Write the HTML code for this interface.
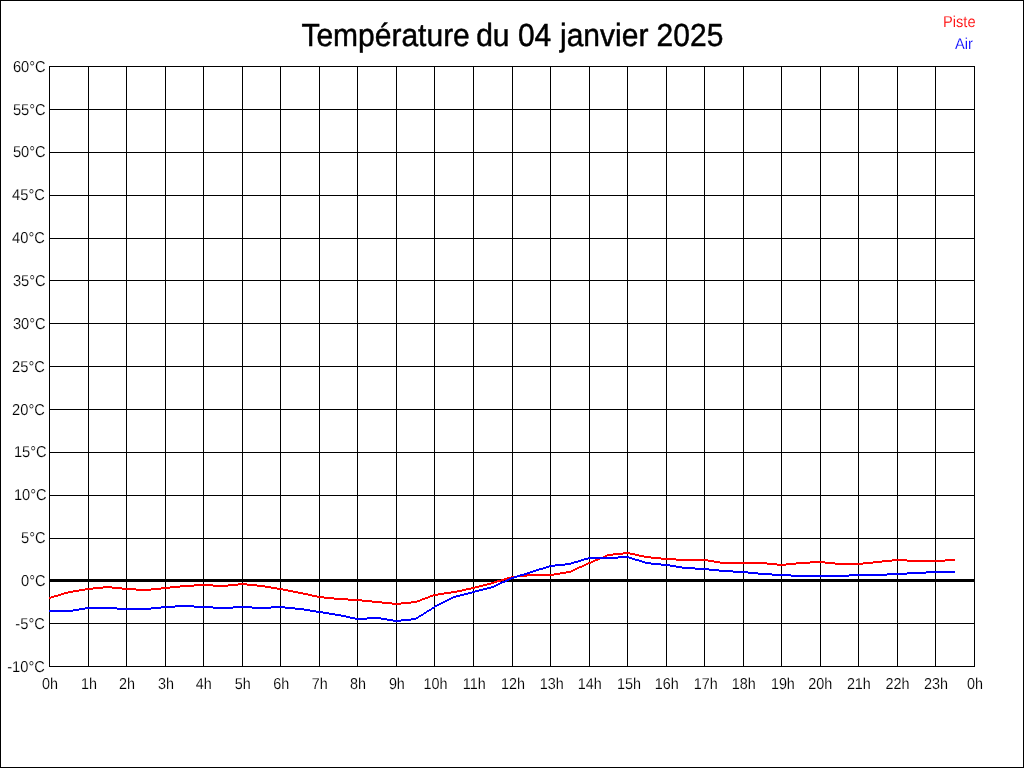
<!DOCTYPE html>
<html lang="fr">
<head>
<meta charset="utf-8">
<title>Température du 04 janvier 2025</title>
<style>
html,body{margin:0;padding:0;background:#fff;}
body{width:1024px;height:768px;overflow:hidden;position:relative;font-family:"Liberation Sans",sans-serif;}
svg{position:absolute;left:0;top:0;display:block;}
text{font-family:"Liberation Sans",sans-serif;text-rendering:geometricPrecision;}
.t{font-size:30px;fill:#000;text-anchor:start;}
.yl{font-size:14.67px;fill:#000;text-anchor:end;stroke:#fff;stroke-width:0.12px;}
.xl{font-size:14.67px;fill:#000;text-anchor:start;stroke:#fff;stroke-width:0.12px;}
.lg{font-size:14.67px;text-anchor:end;stroke:#fff;stroke-width:0.12px;}
</style>
</head>
<body>
<svg width="1024" height="768" viewBox="0 0 1024 768">
<rect x="0" y="0" width="1024" height="768" fill="#fff"/>
<g shape-rendering="crispEdges">
<rect x="0.5" y="0.5" width="1023" height="767" fill="none" stroke="#000" stroke-width="1"/>
<g stroke="#000" stroke-width="1" fill="none">
<line x1="49.5" y1="66" x2="49.5" y2="667"/>
<line x1="88.5" y1="66" x2="88.5" y2="667"/>
<line x1="126.5" y1="66" x2="126.5" y2="667"/>
<line x1="165.5" y1="66" x2="165.5" y2="667"/>
<line x1="203.5" y1="66" x2="203.5" y2="667"/>
<line x1="242.5" y1="66" x2="242.5" y2="667"/>
<line x1="280.5" y1="66" x2="280.5" y2="667"/>
<line x1="319.5" y1="66" x2="319.5" y2="667"/>
<line x1="357.5" y1="66" x2="357.5" y2="667"/>
<line x1="396.5" y1="66" x2="396.5" y2="667"/>
<line x1="434.5" y1="66" x2="434.5" y2="667"/>
<line x1="473.5" y1="66" x2="473.5" y2="667"/>
<line x1="512.5" y1="66" x2="512.5" y2="667"/>
<line x1="550.5" y1="66" x2="550.5" y2="667"/>
<line x1="589.5" y1="66" x2="589.5" y2="667"/>
<line x1="627.5" y1="66" x2="627.5" y2="667"/>
<line x1="666.5" y1="66" x2="666.5" y2="667"/>
<line x1="704.5" y1="66" x2="704.5" y2="667"/>
<line x1="743.5" y1="66" x2="743.5" y2="667"/>
<line x1="781.5" y1="66" x2="781.5" y2="667"/>
<line x1="820.5" y1="66" x2="820.5" y2="667"/>
<line x1="858.5" y1="66" x2="858.5" y2="667"/>
<line x1="897.5" y1="66" x2="897.5" y2="667"/>
<line x1="935.5" y1="66" x2="935.5" y2="667"/>
<line x1="974.5" y1="66" x2="974.5" y2="667"/>
<line x1="49" y1="66.5" x2="975" y2="66.5"/>
<line x1="49" y1="109.5" x2="975" y2="109.5"/>
<line x1="49" y1="152.5" x2="975" y2="152.5"/>
<line x1="49" y1="195.5" x2="975" y2="195.5"/>
<line x1="49" y1="238.5" x2="975" y2="238.5"/>
<line x1="49" y1="280.5" x2="975" y2="280.5"/>
<line x1="49" y1="323.5" x2="975" y2="323.5"/>
<line x1="49" y1="366.5" x2="975" y2="366.5"/>
<line x1="49" y1="409.5" x2="975" y2="409.5"/>
<line x1="49" y1="452.5" x2="975" y2="452.5"/>
<line x1="49" y1="495.5" x2="975" y2="495.5"/>
<line x1="49" y1="538.5" x2="975" y2="538.5"/>
<line x1="49" y1="580.5" x2="975" y2="580.5"/>
<line x1="49" y1="623.5" x2="975" y2="623.5"/>
<line x1="49" y1="666.5" x2="975" y2="666.5"/>
</g>
<rect x="49" y="579" width="926" height="3" fill="#000"/>
<path d="M623 552h7v1h-7zM613 553h22v1h-22zM607 554h16v1h-16zM630 554h9v1h-9zM605 555h8v1h-8zM635 555h9v1h-9zM603 556h4v1h-4zM639 556h12v1h-12zM600 557h5v1h-5zM644 557h17v1h-17zM598 558h5v1h-5zM651 558h25v1h-25zM595 559h5v1h-5zM661 559h47v1h-47zM892 559h15v1h-15zM945 559h10v1h-10zM593 560h5v1h-5zM676 560h38v1h-38zM882 560h73v1h-73zM591 561h4v1h-4zM708 561h12v1h-12zM810 561h15v1h-15zM873 561h19v1h-19zM907 561h38v1h-38zM588 562h5v1h-5zM714 562h53v1h-53zM796 562h39v1h-39zM863 562h19v1h-19zM586 563h5v1h-5zM720 563h57v1h-57zM786 563h24v1h-24zM825 563h48v1h-48zM584 564h4v1h-4zM767 564h29v1h-29zM835 564h28v1h-28zM582 565h4v1h-4zM777 565h9v1h-9zM579 566h5v1h-5zM577 567h5v1h-5zM575 568h4v1h-4zM573 569h4v1h-4zM571 570h4v1h-4zM566 571h7v1h-7zM560 572h11v1h-11zM554 573h12v1h-12zM527 574h33v1h-33zM517 575h37v1h-37zM511 576h16v1h-16zM507 577h10v1h-10zM504 578h7v1h-7zM501 579h6v1h-6zM497 580h7v1h-7zM494 581h7v1h-7zM491 582h6v1h-6zM238 583h9v1h-9zM487 583h7v1h-7zM194 584h19v1h-19zM228 584h29v1h-29zM483 584h8v1h-8zM180 585h58v1h-58zM247 585h18v1h-18zM479 585h8v1h-8zM103 586h9v1h-9zM170 586h24v1h-24zM213 586h15v1h-15zM257 586h14v1h-14zM475 586h8v1h-8zM93 587h29v1h-29zM161 587h19v1h-19zM265 587h12v1h-12zM471 587h8v1h-8zM85 588h18v1h-18zM112 588h24v1h-24zM151 588h19v1h-19zM271 588h12v1h-12zM466 588h9v1h-9zM79 589h14v1h-14zM122 589h39v1h-39zM277 589h11v1h-11zM462 589h9v1h-9zM73 590h12v1h-12zM136 590h15v1h-15zM283 590h10v1h-10zM457 590h9v1h-9zM68 591h11v1h-11zM288 591h10v1h-10zM451 591h11v1h-11zM64 592h9v1h-9zM293 592h10v1h-10zM444 592h13v1h-13zM61 593h7v1h-7zM298 593h10v1h-10zM438 593h13v1h-13zM58 594h6v1h-6zM303 594h9v1h-9zM433 594h11v1h-11zM54 595h7v1h-7zM308 595h9v1h-9zM430 595h8v1h-8zM51 596h7v1h-7zM312 596h12v1h-12zM428 596h5v1h-5zM49 597h5v1h-5zM317 597h17v1h-17zM425 597h5v1h-5zM49 598h2v1h-2zM324 598h24v1h-24zM422 598h6v1h-6zM334 599h28v1h-28zM420 599h5v1h-5zM348 600h24v1h-24zM417 600h5v1h-5zM362 601h20v1h-20zM411 601h9v1h-9zM372 602h20v1h-20zM401 602h16v1h-16zM382 603h29v1h-29zM392 604h9v1h-9z" fill="#f00"/>
<path d="M618 556h11v1h-11zM588 557h44v1h-44zM584 558h34v1h-34zM629 558h6v1h-6zM581 559h7v1h-7zM632 559h7v1h-7zM578 560h6v1h-6zM635 560h7v1h-7zM574 561h7v1h-7zM639 561h6v1h-6zM571 562h7v1h-7zM642 562h9v1h-9zM565 563h9v1h-9zM645 563h16v1h-16zM555 564h16v1h-16zM651 564h19v1h-19zM549 565h16v1h-16zM661 565h15v1h-15zM546 566h9v1h-9zM670 566h12v1h-12zM543 567h6v1h-6zM676 567h19v1h-19zM539 568h7v1h-7zM682 568h27v1h-27zM536 569h7v1h-7zM695 569h24v1h-24zM533 570h6v1h-6zM709 570h24v1h-24zM530 571h6v1h-6zM719 571h29v1h-29zM926 571h29v1h-29zM527 572h6v1h-6zM733 572h25v1h-25zM907 572h48v1h-48zM524 573h6v1h-6zM748 573h24v1h-24zM887 573h39v1h-39zM520 574h7v1h-7zM758 574h33v1h-33zM849 574h58v1h-58zM517 575h7v1h-7zM772 575h115v1h-115zM514 576h6v1h-6zM791 576h58v1h-58zM511 577h6v1h-6zM509 578h5v1h-5zM507 579h4v1h-4zM505 580h4v1h-4zM502 581h5v1h-5zM500 582h5v1h-5zM498 583h4v1h-4zM496 584h4v1h-4zM494 585h4v1h-4zM491 586h5v1h-5zM487 587h7v1h-7zM483 588h8v1h-8zM479 589h8v1h-8zM475 590h8v1h-8zM472 591h7v1h-7zM468 592h7v1h-7zM464 593h8v1h-8zM460 594h8v1h-8zM456 595h8v1h-8zM453 596h7v1h-7zM451 597h5v1h-5zM449 598h4v1h-4zM447 599h4v1h-4zM445 600h4v1h-4zM443 601h4v1h-4zM441 602h4v1h-4zM439 603h4v1h-4zM437 604h4v1h-4zM175 605h19v1h-19zM435 605h4v1h-4zM161 606h52v1h-52zM233 606h19v1h-19zM271 606h14v1h-14zM434 606h3v1h-3zM85 607h32v1h-32zM151 607h24v1h-24zM194 607h101v1h-101zM432 607h3v1h-3zM79 608h82v1h-82zM213 608h20v1h-20zM252 608h19v1h-19zM285 608h19v1h-19zM431 608h3v1h-3zM73 609h12v1h-12zM117 609h34v1h-34zM295 609h15v1h-15zM429 609h3v1h-3zM49 610h30v1h-30zM304 610h12v1h-12zM427 610h4v1h-4zM49 611h24v1h-24zM310 611h13v1h-13zM426 611h3v1h-3zM316 612h13v1h-13zM424 612h3v1h-3zM323 613h12v1h-12zM423 613h3v1h-3zM329 614h12v1h-12zM421 614h3v1h-3zM335 615h11v1h-11zM419 615h4v1h-4zM341 616h9v1h-9zM418 616h3v1h-3zM346 617h9v1h-9zM367 617h14v1h-14zM416 617h3v1h-3zM350 618h37v1h-37zM411 618h7v1h-7zM355 619h12v1h-12zM381 619h12v1h-12zM401 619h15v1h-15zM387 620h24v1h-24zM393 621h8v1h-8z" fill="#00f"/>
</g>
<text class="t" transform="translate(0,46) scale(1,1.065)" stroke="#000" stroke-width="0.45" xml:space="preserve"><tspan x="301.4">Température </tspan><tspan x="476.2">du </tspan><tspan x="517.9">04 </tspan><tspan x="560.0">janvier </tspan><tspan x="656.6">2025</tspan></text>
<text class="yl" transform="translate(45.65,72) scale(1,1.075)">60°C</text>
<text class="yl" transform="translate(45.65,115) scale(1,1.075)">55°C</text>
<text class="yl" transform="translate(45.65,157) scale(1,1.075)">50°C</text>
<text class="yl" transform="translate(44.85,200) scale(1,1.075)">45°C</text>
<text class="yl" transform="translate(44.85,243) scale(1,1.075)">40°C</text>
<text class="yl" transform="translate(45.65,286) scale(1,1.075)">35°C</text>
<text class="yl" transform="translate(45.65,329) scale(1,1.075)">30°C</text>
<text class="yl" transform="translate(44.85,372) scale(1,1.075)">25°C</text>
<text class="yl" transform="translate(44.85,415) scale(1,1.075)">20°C</text>
<text class="yl" transform="translate(46.7,457) scale(1,1.075)">15°C</text>
<text class="yl" transform="translate(46.7,500) scale(1,1.075)">10°C</text>
<text class="yl" transform="translate(45.65,543) scale(1,1.075)">5°C</text>
<text class="yl" transform="translate(45.65,586) scale(1,1.075)">0°C</text>
<text class="yl" transform="translate(44.85,629) scale(1,1.075)">-5°C</text>
<text class="yl" transform="translate(44.85,672) scale(1,1.075)">-10°C</text>
<text class="xl" transform="translate(42.00,689) scale(0.98,1.075)">0h</text>
<text class="xl" transform="translate(80.94,689) scale(0.98,1.075)">1h</text>
<text class="xl" transform="translate(119.08,689) scale(0.98,1.075)">2h</text>
<text class="xl" transform="translate(158.03,689) scale(0.98,1.075)">3h</text>
<text class="xl" transform="translate(195.67,689) scale(0.98,1.075)">4h</text>
<text class="xl" transform="translate(234.71,689) scale(0.98,1.075)">5h</text>
<text class="xl" transform="translate(273.25,689) scale(0.98,1.075)">6h</text>
<text class="xl" transform="translate(311.79,689) scale(0.98,1.075)">7h</text>
<text class="xl" transform="translate(350.03,689) scale(0.98,1.075)">8h</text>
<text class="xl" transform="translate(388.88,689) scale(0.98,1.075)">9h</text>
<text class="xl" transform="translate(423.42,689) scale(0.98,1.075)">10h</text>
<text class="xl" transform="translate(462.76,689) scale(0.98,1.075)">11h</text>
<text class="xl" transform="translate(500.90,689) scale(0.98,1.075)">12h</text>
<text class="xl" transform="translate(539.79,689) scale(0.98,1.075)">13h</text>
<text class="xl" transform="translate(577.83,689) scale(0.98,1.075)">14h</text>
<text class="xl" transform="translate(617.02,689) scale(0.98,1.075)">15h</text>
<text class="xl" transform="translate(654.67,689) scale(0.98,1.075)">16h</text>
<text class="xl" transform="translate(693.81,689) scale(0.98,1.075)">17h</text>
<text class="xl" transform="translate(731.75,689) scale(0.98,1.075)">18h</text>
<text class="xl" transform="translate(770.89,689) scale(0.98,1.075)">19h</text>
<text class="xl" transform="translate(808.33,689) scale(0.98,1.075)">20h</text>
<text class="xl" transform="translate(846.88,689) scale(0.98,1.075)">21h</text>
<text class="xl" transform="translate(885.42,689) scale(0.98,1.075)">22h</text>
<text class="xl" transform="translate(923.96,689) scale(0.98,1.075)">23h</text>
<text class="xl" transform="translate(967.00,689) scale(0.98,1.075)">0h</text>
<text class="lg" transform="translate(975.6,27) scale(1,1.075)" fill="#f00">Piste</text>
<text class="lg" transform="translate(973,49) scale(1,1.075)" fill="#00f">Air</text>
</svg>
</body>
</html>
